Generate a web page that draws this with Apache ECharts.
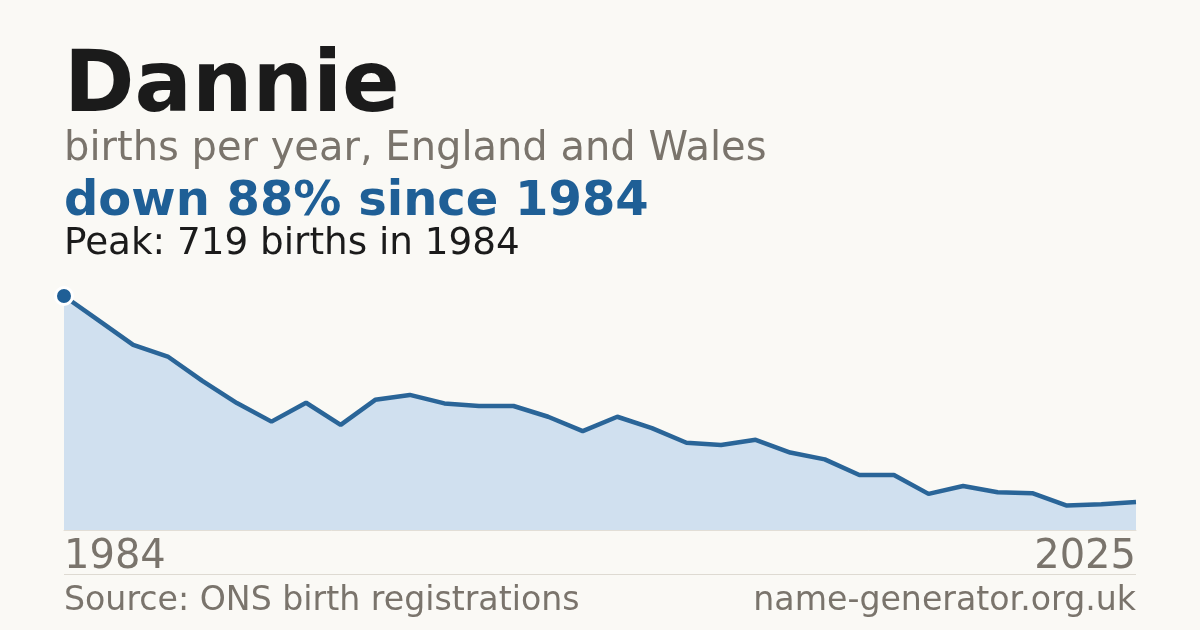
<!DOCTYPE html>
<html>
<head>
<meta charset="utf-8">
<script src="https://cdn.jsdelivr.net/npm/echarts@6/dist/echarts.min.js"></script>
<style>
    html, body { margin: 0; padding: 0; background: #faf9f5; }
    #chart { width: 1200px; height: 630px; }
</style>
</head>
<body>
<div id="chart"></div>
<script>
// years with data (the series is plotted evenly on a category axis)
var years = [1984, 1994, 1996, 1997, 1998, 1999, 2000, 2001, 2002, 2003, 2004,
    2005, 2006, 2007, 2008, 2009, 2010, 2011, 2012, 2013, 2014, 2015, 2016,
    2017, 2018, 2019, 2020, 2021, 2022, 2023, 2024, 2025];
var births = [719, 644, 569, 533, 458, 390, 333, 391, 323, 400, 415,
    389, 381, 381, 348, 304, 348, 313, 268, 261, 277, 238, 217,
    169, 169, 111, 135, 116, 113, 75, 79, 86];

var nameText = 'Dannie';
var subText = 'births per year, England and Wales';
var changeText = 'down 88% since 1984';
var peakText = 'Peak: 719 births in 1984';
var sourceText = 'Source: ONS birth registrations';
var siteText = 'name-generator.org.uk';

var grey = '#7a746c';
var blue = '#1f5f96';
var font = 'DejaVu Sans';

var chart = echarts.init(document.getElementById('chart'));

var option = {
    backgroundColor: '#faf9f5',
    animation: false,
    grid: {
        left: 64,
        right: 64,
        top: 296,
        bottom: 100
    },
    xAxis: {
        type: 'category',
        data: years,
        boundaryGap: false,
        axisLine: { show: true, lineStyle: { color: '#e2ded6', width: 1 } },
        axisTick: { show: false },
        splitLine: { show: false },
        axisLabel: {
            interval: function (index) {
                return index === 0 || index === years.length - 1;
            },
            alignMinLabel: 'left',
            alignMaxLabel: 'right',
            margin: 8,
            color: grey,
            fontSize: 40,
            fontFamily: font
        }
    },
    yAxis: {
        type: 'value',
        min: 0,
        max: 719,
        show: false,
        splitLine: { show: false }
    },
    series: [{
        type: 'line',
        data: births,
        clip: false,
        smooth: false,
        symbol: 'circle',
        symbolSize: function (val, params) {
            return params.dataIndex === 0 ? 17 : 0;
        },
        showSymbol: true,
        itemStyle: {
            color: blue,
            borderColor: '#ffffff',
            borderWidth: 3
        },
        lineStyle: {
            color: '#2a6598',
            width: 4.5
        },
        areaStyle: {
            color: '#d0e0ef',
            opacity: 1
        },
        z: 3
    }],
    graphic: [
        {
            type: 'text', left: 64, top: 46,
            style: { text: nameText, fill: '#1b1b1b', fontSize: 85, fontWeight: 'bold', fontFamily: font }
        },
        {
            type: 'text', left: 64, top: 130,
            style: { text: subText, fill: grey, fontSize: 40, fontFamily: font }
        },
        {
            type: 'text', left: 64, top: 179,
            style: { text: changeText, fill: blue, fontSize: 48, fontWeight: 'bold', fontFamily: font }
        },
        {
            type: 'text', left: 64, top: 226,
            style: { text: peakText, fill: '#1b1b1b', fontSize: 37.3, fontFamily: font }
        },
        {
            type: 'line',
            shape: { x1: 64, y1: 574.5, x2: 1136, y2: 574.5 },
            style: { stroke: '#dedad2', lineWidth: 1 }
        },
        {
            type: 'text', left: 64, top: 585,
            style: { text: sourceText, fill: grey, fontSize: 33.2, fontFamily: font }
        },
        {
            type: 'text', right: 64, top: 585,
            style: { text: siteText, fill: grey, fontSize: 33.2, fontFamily: font }
        }
    ]
};

chart.setOption(option);
</script>
</body>
</html>
